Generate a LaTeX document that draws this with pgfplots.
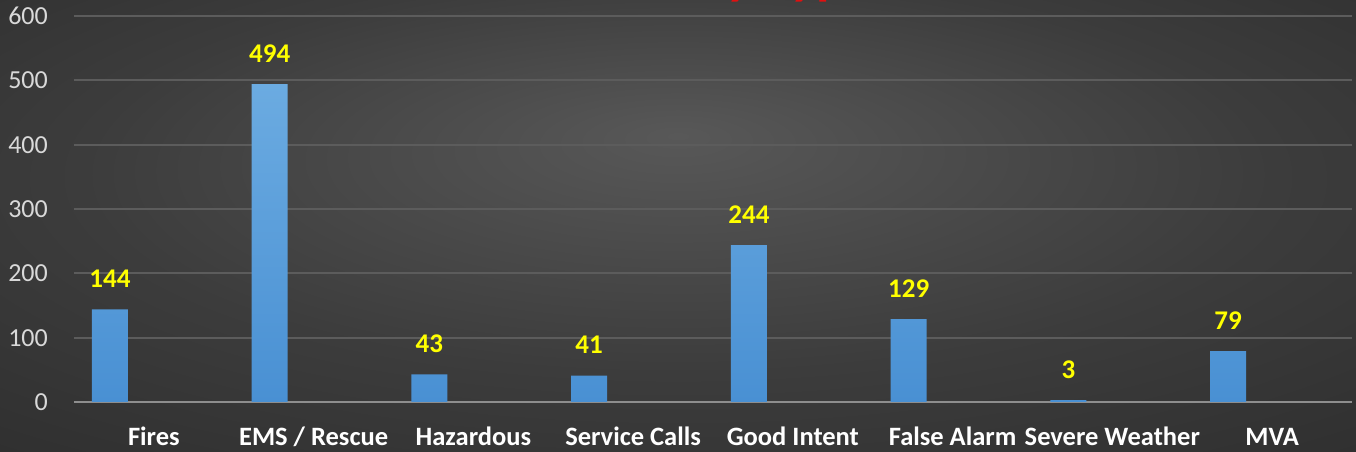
\documentclass[border=0pt]{standalone}
\usepackage{pgfplots}
\pgfplotsset{compat=1.18}
\usepackage{fontspec}
\setmainfont{Carlito}
\definecolor{bgC}{HTML}{585858}
\definecolor{bgM}{HTML}{3C3C3C}
\definecolor{bgO}{HTML}{262626}
\definecolor{barTop}{HTML}{6BABE1}
\definecolor{barBot}{HTML}{4990D3}
\definecolor{gridC}{HTML}{5C5C5C}
\definecolor{baseC}{HTML}{8E8E8E}
\definecolor{tickC}{HTML}{D9D9D9}
\definecolor{valC}{HTML}{FFFF00}
\definecolor{titleC}{HTML}{E01010}
\pgfdeclareradialshading{bgshade}{\pgfpoint{0bp}{10bp}}{color(0bp)=(bgC); color(22bp)=(bgM); color(50bp)=(bgO)}
\begin{document}
\begin{tikzpicture}[x=1bp,y=1bp]
\begin{scope}
\clip (0,0) rectangle (1356,452);
\shade[shading=bgshade] (0,0) rectangle (1356,452);
\node[anchor=base west, inner sep=0pt, text=titleC, font=\fontsize{55bp}{60bp}\selectfont\bfseries] at (579,458.8) {Calls by Type};
\begin{axis}[
  at={(74bp,50bp)}, anchor=south west,
  scale only axis, width=1278bp, height=386bp,
  xmin=-0.5, xmax=7.5, ymin=0, ymax=600,
  axis line style={draw=none},
  tick style={draw=none},
  ytick={100,200,300,400,500,600},
  extra y ticks={0},
  extra y tick style={grid style={color=baseC, line width=2.5bp}},
  ymajorgrids,
  grid style={color=gridC, line width=2bp},
  xtick={0,1,2,3,4,5,6,7},
  xticklabels={Fires, EMS / Rescue, Hazardous, Service Calls, Good Intent, False Alarm, Severe Weather, MVA},
  xticklabel style={anchor=base, inner sep=0pt, yshift=-44bp, text=white, font=\fontsize{26.5bp}{30bp}\selectfont\bfseries},
  yticklabel style={anchor=east, inner sep=0pt, xshift=-26bp, text=tickC, font=\fontsize{26bp}{30bp}\selectfont},
  /pgf/number format/assume math mode=true,
  clip=false,
]
\addplot[ybar, bar width=36bp, bar shift=0pt, draw=none, top color=barTop, bottom color=barBot,
  nodes near coords,
  every node near coord/.append style={anchor=base, inner sep=0pt, yshift=22bp, text=valC, font=\fontsize{27bp}{30bp}\selectfont\bfseries},
  /pgf/number format/assume math mode=true]
coordinates {(-0.275,144) (0.725,494) (1.725,43) (2.725,41) (3.725,244) (4.725,129) (5.725,3) (6.725,79)};
\end{axis}
\end{scope}
\pgfresetboundingbox
\path[use as bounding box] (0,0) rectangle (1356,452);
\end{tikzpicture}
\end{document}
